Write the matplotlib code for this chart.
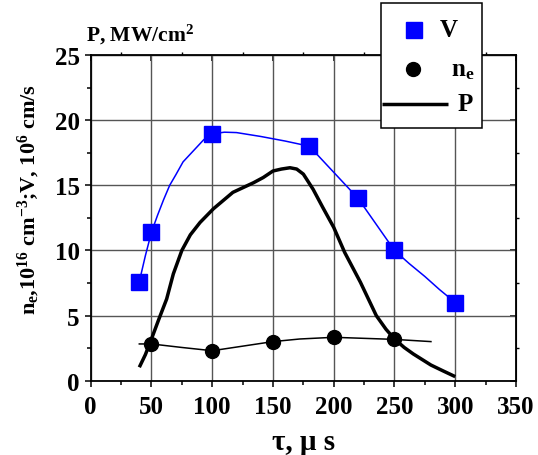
import matplotlib
matplotlib.use("Agg")
import matplotlib.pyplot as plt
from matplotlib.lines import Line2D
from matplotlib.patches import Rectangle
from matplotlib.ticker import MultipleLocator

plt.rcParams['font.family'] = ['Liberation Serif', 'DejaVu Serif']
plt.rcParams['font.weight'] = 'bold'
plt.rcParams['mathtext.fontset'] = 'custom'
plt.rcParams['mathtext.rm'] = 'Liberation Serif:bold'
plt.rcParams['mathtext.it'] = 'Liberation Serif:bold'
plt.rcParams['mathtext.bf'] = 'Liberation Serif:bold'

# V markers
v_t = [40, 50, 100, 180, 220, 250, 300]
v_val = [7.6, 11.4, 18.95, 18.0, 14.0, 10.0, 6.0]
# V smooth curve
vc_t = [40, 45, 50, 55, 60, 65, 70, 76, 86, 93, 100, 110, 120, 140, 160, 180, 200, 220, 235, 250, 262, 275, 287, 300]
vc_val = [7.6, 9.6, 11.4, 12.7, 13.9, 15.0, 15.8, 16.8, 17.8, 18.5, 18.95, 19.08, 19.05, 18.75, 18.4, 18.0, 16.0, 14.0, 12.0, 10.0, 9.0, 8.0, 7.0, 6.0]

# n_e markers
ne_t = [50, 100, 150, 200, 250]
ne_val = [2.82, 2.3, 3.0, 3.33, 3.17]
# n_e line
nec_t = [40, 50, 75, 100, 125, 150, 172, 200, 225, 250, 280]
nec_val = [2.82, 2.82, 2.55, 2.3, 2.65, 3.0, 3.2, 3.33, 3.25, 3.17, 3.0]

# P curve
p_t = [40, 45, 50, 56, 62.5, 68, 75, 82, 90, 101, 117, 134, 142, 150, 157, 164, 169.5, 175, 183, 191, 200, 209, 222, 235, 243, 250, 258, 265.5, 280, 290, 300]
p_val = [1.03, 2.0, 3.2, 4.7, 6.27, 8.2, 10.0, 11.2, 12.15, 13.2, 14.46, 15.2, 15.6, 16.1, 16.25, 16.35, 16.25, 15.86, 14.7, 13.3, 11.77, 9.85, 7.55, 5.0, 3.95, 3.2, 2.55, 2.05, 1.2, 0.75, 0.31]

legend_labels = ['V', r'n$_{\rm e}$', 'P']

fig = plt.figure(figsize=(5.38, 4.56), dpi=100)
ax = fig.add_axes([0.1686, 0.163, 0.7905, 0.714])

ax.plot(p_t, p_val, color='black', lw=2.5, zorder=3, solid_capstyle='butt')
ax.plot(vc_t, vc_val, color='#0000ff', lw=1.1, zorder=3)
ax.plot(v_t, v_val, linestyle='none', marker='s', ms=11, color='#0000ff', zorder=4)
ax.plot(nec_t, nec_val, color='black', lw=1.1, zorder=3)
ax.plot(ne_t, ne_val, linestyle='none', marker='o', ms=10, color='black', zorder=4)

ax.set_xlim(0, 350)
ax.set_ylim(0, 25)
ax.xaxis.set_major_locator(MultipleLocator(50))
ax.xaxis.set_minor_locator(MultipleLocator(25))
ax.yaxis.set_major_locator(MultipleLocator(5))
ax.yaxis.set_minor_locator(MultipleLocator(2.5))
ax.grid(True, which='major', color='#555555', lw=1.0)
ax.set_axisbelow(True)
ax.tick_params(which='both', direction='out', labelsize=18, width=1.1)
ax.tick_params(axis='x', which='major', length=4, pad=6)
ax.tick_params(axis='x', which='minor', length=3)
ax.tick_params(axis='y', which='major', length=4, pad=4)
ax.tick_params(axis='y', which='minor', length=3)
for s in ax.spines.values():
    s.set_linewidth(1.3)

# top / right ticks (inward)
top = ax.secondary_xaxis('top')
top.xaxis.set_major_locator(MultipleLocator(50))
top.xaxis.set_minor_locator(MultipleLocator(25))
top.tick_params(which='major', direction='in', length=4, width=1.1, labeltop=False)
top.tick_params(which='minor', direction='out', length=2, width=1.0)
right = ax.secondary_yaxis('right')
right.yaxis.set_major_locator(MultipleLocator(5))
right.yaxis.set_minor_locator(MultipleLocator(2.5))
right.tick_params(which='major', direction='in', length=4, width=1.1, labelright=False)
right.tick_params(which='minor', direction='out', length=2, width=1.0)

ax.set_xlabel('τ, μ s', fontsize=21, fontweight='bold')
ax.xaxis.set_label_coords(0.5, -0.145)
ax.set_ylabel(r'n$_{\rm e}$,10$^{16}$ cm$^{-3}$;V, 10$^{6}$ cm/s', fontsize=16, fontweight='bold')
ax.yaxis.set_label_coords(-0.115, 0.558)
ax.text(-0.012, 1.046, r'P, MW/cm$^{2}$', transform=ax.transAxes, fontsize=15.5,
        fontweight='bold', ha='left', va='baseline')

# legend box drawn in axes coordinates
box = Rectangle((0.6826, 0.776), 0.9196 - 0.6826, 1.1615 - 0.776, transform=ax.transAxes,
                facecolor='white', edgecolor='black', lw=1.1, clip_on=False, zorder=10)
ax.add_patch(box)
ax.add_line(Line2D([0.759], [1.0775], transform=ax.transAxes, marker='s', ms=11,
                   color='#0000ff', linestyle='none', clip_on=False, zorder=11))
ax.add_line(Line2D([0.758], [0.956], transform=ax.transAxes, marker='o', ms=10,
                   color='black', linestyle='none', clip_on=False, zorder=11))
ax.add_line(Line2D([0.685, 0.839], [0.851, 0.851], transform=ax.transAxes, lw=2.5,
                   color='black', clip_on=False, zorder=11, solid_capstyle='butt'))
ax.text(0.820, 1.0775, legend_labels[0], transform=ax.transAxes, fontsize=18, fontweight='bold',
        ha='left', va='center', zorder=12)
ax.text(0.848, 0.956, legend_labels[1], transform=ax.transAxes, fontsize=18, fontweight='bold',
        ha='left', va='center', zorder=12)
ax.text(0.862, 0.851, legend_labels[2], transform=ax.transAxes, fontsize=18, fontweight='bold',
        ha='left', va='center', zorder=12)

fig.savefig('out.png', dpi=100)
